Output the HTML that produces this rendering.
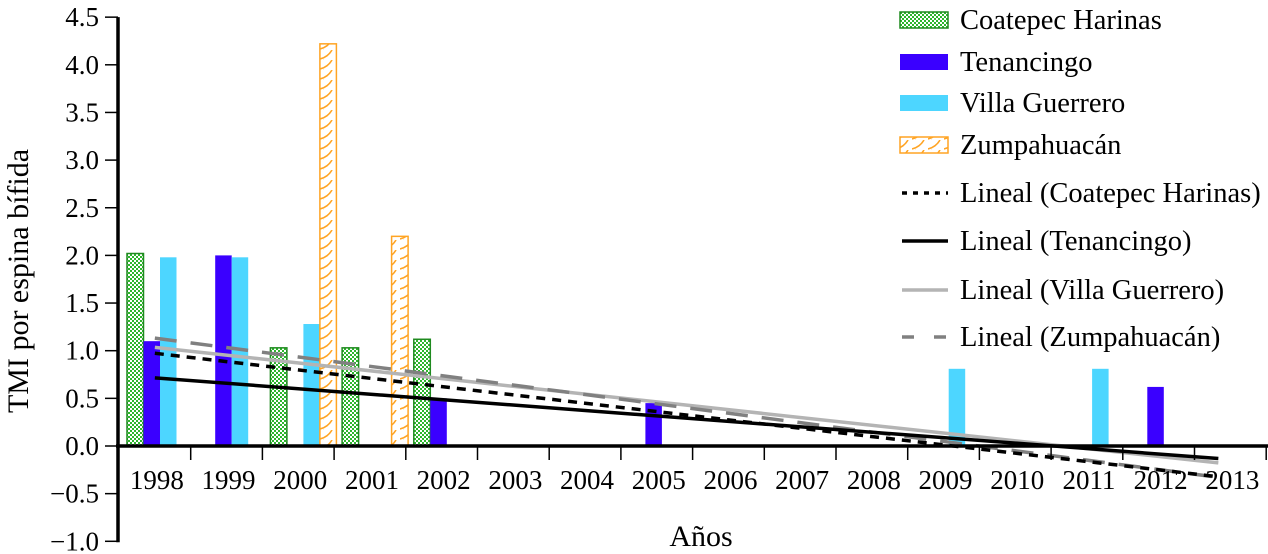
<!DOCTYPE html>
<html><head><meta charset="utf-8"><style>
html,body{margin:0;padding:0;background:#fff;}
svg{display:block;font-family:"Liberation Serif","DejaVu Serif",serif;}
</style></head><body>
<svg id="chart" width="1268" height="554" viewBox="0 0 1268 554">
<defs>
<pattern id="checks" width="4" height="4" patternUnits="userSpaceOnUse">
<rect width="4" height="4" fill="#ffffff"/><rect width="2" height="2" fill="#2db52d"/><rect x="2" y="2" width="2" height="2" fill="#2db52d"/>
</pattern>
<pattern id="waves" width="16" height="10" patternUnits="userSpaceOnUse">
<rect width="16" height="10" fill="#fff"/>
<path d="M0 9 Q8 7 12 0 M-8 19 Q0 17 4 10" stroke="#ffa424" stroke-width="1.6" fill="none"/>
</pattern>
</defs>
<g id="plot"></g>
<text x="28" y="281" font-size="30" text-anchor="middle" transform="rotate(-90 28 281)">TMI por espina bífida</text>
<text x="701" y="546" font-size="30" text-anchor="middle">Años</text>
<g id="legend"></g>
</svg>
<script>
const categories = ["1998","1999","2000","2001","2002","2003","2004","2005","2006","2007","2008","2009","2010","2011","2012","2013"];
const coatepec = [2.02,0,1.03,1.03,1.12,0,0,0,0,0,0,0,0,0,0,0];
const tenancingo = [1.1,2.0,0,0,0.5,0,0,0.45,0,0,0,0,0,0,0.62,0];
const villaGuerrero = [1.98,1.98,1.28,0,0,0,0,0,0,0,0,0.81,0,0.81,0,0];
const zumpahuacan = [0,0,4.22,2.2,0,0,0,0,0,0,0,0,0,0,0,0];
const yTicks = [4.5,4.0,3.5,3.0,2.5,2.0,1.5,1.0,0.5,0.0,-0.5,-1.0];
const seriesNames = ["Coatepec Harinas","Tenancingo","Villa Guerrero","Zumpahuacán"];

const NS="http://www.w3.org/2000/svg";
const X0=119, BAND=71.7, Y0=446, PX=95.3;
const x=i=>X0+i*BAND;
const y=v=>Y0-v*PX;
function mk(tag,attrs,parent){const e=document.createElementNS(NS,tag);for(const k in attrs)e.setAttribute(k,attrs[k]);parent.appendChild(e);return e;}
const plot=document.getElementById('plot');
const legend=document.getElementById('legend');

const fills=["url(#checks)","#3a00ff","#4dd6ff","url(#waves)"];
const strokes=["#1f8a1f","none","none","#ffa424"];
const data=[coatepec,tenancingo,villaGuerrero,zumpahuacan];
const keys=["coatepec","tenancingo","villa-guerrero","zumpahuacan"];
const BW=16.5, OFF=8;
data.forEach((s,si)=>{
  s.forEach((v,i)=>{
    if(v<=0) return;
    const r=mk('rect',{x:x(i)+OFF+si*BW,y:y(v),width:BW,height:y(0)-y(v),fill:fills[si],stroke:strokes[si],'stroke-width':strokes[si]==='none'?0:1.5},plot);
    
    
  });
});

const tStyles=[
  {stroke:"#000",w:3.5,dash:"9 7"},
  {stroke:"#000",w:3.5,dash:""},
  {stroke:"#b4b4b4",w:3.5,dash:""},
  {stroke:"#808080",w:3.5,dash:"22 14"}];
const drawOrder=[2,3,0,1];
drawOrder.forEach(si=>{
  const s=data[si], n=s.length;
  const mx=(n-1)/2, my=s.reduce((a,b)=>a+b,0)/n;
  let sxy=0,sxx=0; s.forEach((v,i)=>{sxy+=(i-mx)*(v-my);sxx+=(i-mx)*(i-mx);});
  const b=sxy/sxx, a=my-b*mx;
  const x1=x(0)+BAND/2, x2=x(n-1)+BAND/2-12;
  const l=mk('line',{x1:x1,y1:y(a),x2:x2,y2:y(a+b*(n-1)),stroke:tStyles[si].stroke,'stroke-width':tStyles[si].w,'stroke-dasharray':tStyles[si].dash},plot);
  
  
});

const ya=mk('line',{x1:118,y1:y(4.5),x2:118,y2:y(-1.0)+1,stroke:'#000','stroke-width':3.5},plot);


const xa=mk('line',{x1:116,y1:Y0,x2:1268,y2:Y0,stroke:'#000','stroke-width':3.5},plot);


yTicks.forEach(t=>{
  mk('line',{x1:105,y1:y(t),x2:118,y2:y(t),stroke:'#000','stroke-width':1.5},plot);
  const tx=mk('text',{x:99,y:y(t)+9,'font-size':27,'text-anchor':'end'},plot);
  tx.textContent=(t<0?'\u2212':'')+Math.abs(t).toFixed(1);
  
  
});
categories.forEach((c,i)=>{
  mk('line',{x1:x(i+1),y1:Y0,x2:x(i+1),y2:Y0+14,stroke:'#000','stroke-width':1.5},plot);
  const tx=mk('text',{x:x(i)+BAND/2+2,y:Y0+43,'font-size':27,'text-anchor':'middle'},plot);
  tx.textContent=c;
  
  
});

const rowsY=[20,62,103,145,193,241,290,337];
for(let si=0;si<4;si++){
  const ry=rowsY[si];
  const sw=mk('rect',{x:900,y:ry-8,width:48,height:16,fill:fills[si],stroke:strokes[si],'stroke-width':strokes[si]==='none'?0:1.5},legend);
  
  
  const t=mk('text',{x:960,y:ry+9,'font-size':28.5},legend);
  t.textContent=seriesNames[si];
  
  
}
for(let si=0;si<4;si++){
  const ry=rowsY[si+4];
  const st=tStyles[si];
  const ln=mk('line',{x1:902,y1:ry,x2:948,y2:ry,stroke:st.stroke,'stroke-width':st.w,'stroke-dasharray':si===0?"5 6":(si===3?"12 20":"")},legend);
  
  
  const t=mk('text',{x:960,y:ry+9,'font-size':28.5},legend);
  t.textContent='Lineal ('+seriesNames[si]+')';
  
  
}
</script>
</body></html>
